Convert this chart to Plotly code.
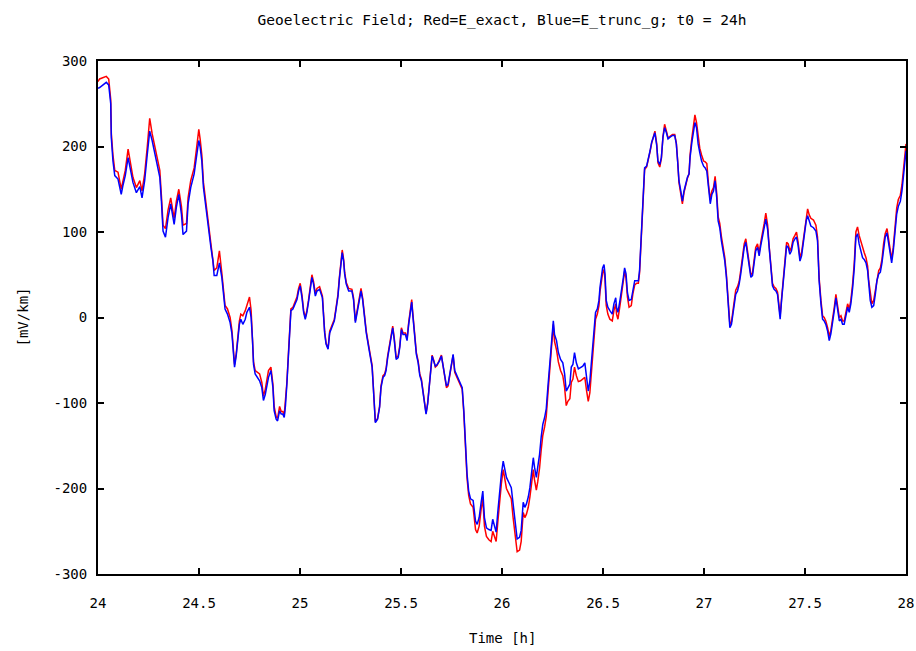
import plotly.graph_objects as go

# time in hours
TIME_H = [
    24.000, 24.008, 24.041, 24.053, 24.063, 24.066, 24.074, 24.083, 24.099, 24.115,
    24.124, 24.135, 24.149, 24.162, 24.173, 24.190, 24.207, 24.218, 24.231, 24.244,
    24.256, 24.268, 24.281, 24.294, 24.306, 24.314, 24.322, 24.334, 24.347, 24.360,
    24.377, 24.388, 24.400, 24.413, 24.421, 24.438, 24.446, 24.459, 24.476, 24.487,
    24.499, 24.506, 24.514, 24.522, 24.530, 24.539, 24.547, 24.559, 24.569, 24.575,
    24.588, 24.601, 24.613, 24.621, 24.629, 24.641, 24.654, 24.663, 24.671, 24.676,
    24.684, 24.690, 24.700, 24.707, 24.717, 24.729, 24.737, 24.750, 24.758, 24.765,
    24.770, 24.778, 24.790, 24.800, 24.811, 24.819, 24.828, 24.836, 24.844, 24.856,
    24.866, 24.872, 24.882, 24.889, 24.899, 24.907, 24.915, 24.922, 24.928, 24.935,
    24.942, 24.948, 24.955, 24.965, 24.976, 24.985, 24.993, 25.001, 25.010, 25.018,
    25.026, 25.034, 25.042, 25.051, 25.059, 25.067, 25.076, 25.084, 25.097, 25.111,
    25.116, 25.122, 25.129, 25.139, 25.147, 25.158, 25.170, 25.180, 25.188, 25.195,
    25.203, 25.209, 25.216, 25.221, 25.229, 25.241, 25.257, 25.265, 25.274, 25.282,
    25.294, 25.302, 25.310, 25.320, 25.328, 25.340, 25.348, 25.357, 25.362, 25.368,
    25.373, 25.384, 25.394, 25.401, 25.411, 25.419, 25.426, 25.434, 25.442, 25.451,
    25.459, 25.467, 25.476, 25.486, 25.494, 25.502, 25.510, 25.522, 25.530, 25.538,
    25.546, 25.553, 25.558, 25.568, 25.576, 25.585, 25.593, 25.601, 25.609, 25.617,
    25.624, 25.632, 25.641, 25.647, 25.654, 25.662, 25.670, 25.679, 25.690, 25.700,
    25.708, 25.716, 25.725, 25.733, 25.741, 25.750, 25.758, 25.766, 25.778, 25.791,
    25.803, 25.811, 25.819, 25.827, 25.835, 25.844, 25.857, 25.869, 25.877, 25.887,
    25.897, 25.905, 25.913, 25.923, 25.935, 25.946, 25.954, 25.963, 25.971, 25.979,
    25.989, 25.997, 26.006, 26.012, 26.022, 26.034, 26.046, 26.055, 26.067, 26.075,
    26.087, 26.095, 26.105, 26.113, 26.121, 26.130, 26.138, 26.146, 26.155, 26.161,
    26.170, 26.177, 26.186, 26.194, 26.202, 26.211, 26.219, 26.227, 26.234, 26.240,
    26.247, 26.254, 26.260, 26.270, 26.279, 26.290, 26.301, 26.310, 26.318, 26.326,
    26.336, 26.343, 26.351, 26.359, 26.368, 26.378, 26.389, 26.400, 26.410, 26.419,
    26.427, 26.435, 26.444, 26.452, 26.463, 26.472, 26.480, 26.485, 26.492, 26.498,
    26.505, 26.510, 26.516, 26.524, 26.534, 26.546, 26.554, 26.563, 26.567, 26.574,
    26.584, 26.592, 26.601, 26.607, 26.614, 26.621, 26.629, 26.640, 26.648, 26.657,
    26.667, 26.675, 26.681, 26.686, 26.693, 26.700, 26.706, 26.716, 26.725, 26.733,
    26.741, 26.749, 26.757, 26.766, 26.772, 26.781, 26.789, 26.797, 26.805, 26.814,
    26.822, 26.832, 26.844, 26.855, 26.863, 26.870, 26.876, 26.885, 26.893, 26.901,
    26.910, 26.918, 26.926, 26.931, 26.940, 26.948, 26.955, 26.963, 26.971, 26.979,
    26.988, 26.998, 27.006, 27.014, 27.023, 27.031, 27.039, 27.047, 27.055, 27.063,
    27.070, 27.078, 27.086, 27.094, 27.103, 27.111, 27.119, 27.128, 27.136, 27.149,
    27.157, 27.166, 27.174, 27.182, 27.191, 27.199, 27.207, 27.215, 27.223, 27.232,
    27.240, 27.248, 27.256, 27.265, 27.273, 27.281, 27.290, 27.298, 27.306, 27.315,
    27.323, 27.331, 27.339, 27.347, 27.356, 27.364, 27.372, 27.377, 27.384, 27.392,
    27.400, 27.409, 27.417, 27.425, 27.433, 27.441, 27.450, 27.458, 27.466, 27.475,
    27.483, 27.491, 27.499, 27.506, 27.513, 27.521, 27.529, 27.542, 27.554, 27.562,
    27.570, 27.579, 27.587, 27.595, 27.603, 27.612, 27.620, 27.628, 27.637, 27.645,
    27.653, 27.661, 27.670, 27.678, 27.686, 27.694, 27.703, 27.711, 27.719, 27.727,
    27.736, 27.744, 27.752, 27.760, 27.768, 27.777, 27.785, 27.793, 27.802, 27.810,
    27.815, 27.823, 27.831, 27.840, 27.848, 27.856, 27.865, 27.873, 27.881, 27.889,
    27.897, 27.906, 27.912, 27.921, 27.929, 27.937, 27.946, 27.954, 27.962, 27.972,
    27.980, 27.989, 27.994, 28.000,
]

# Blue: truncated field [mV/km]
E_TRUNC_G = [
    268, 269, 275, 272, 250, 210, 183, 166, 162, 144,
    155, 166, 187, 172, 158, 146, 153, 140, 160, 191,
    218, 207, 191, 179, 164, 136, 101, 94, 117, 133,
    109, 129, 144, 121, 97, 101, 133, 152, 168, 187,
    207, 199, 183, 152, 136, 121, 105, 82, 66, 49,
    49, 64, 47, 27, 10, 4, -6, -19, -43, -58,
    -45, -31, -8, -2, -8, -2, 6, 12, 0, -27,
    -55, -66, -70, -74, -82, -97, -90, -78, -70, -62,
    -82, -109, -119, -121, -109, -113, -113, -117, -103, -78,
    -47, -12, 8, 10, 16, 21, 31, 37, 23, 6,
    -2, 6, 18, 37, 47, 39, 25, 31, 33, 23,
    2, -18, -31, -37, -18, -10, -4, 12, 25, 45,
    64, 76, 66, 51, 39, 31, 31, 21, -6, 4,
    20, 31, 21, 0, -18, -35, -47, -58, -78, -109,
    -123, -119, -105, -82, -70, -68, -62, -47, -35, -23,
    -12, -27, -49, -47, -35, -14, -20, -20, -27, -8,
    6, 18, 4, -23, -43, -53, -68, -74, -86, -103,
    -113, -101, -78, -55, -45, -51, -57, -55, -51, -45,
    -55, -66, -80, -78, -68, -57, -43, -62, -68, -74,
    -82, -109, -152, -183, -203, -212, -214, -238, -242, -234,
    -216, -203, -234, -246, -248, -249, -236, -246, -251, -228,
    -197, -183, -168, -175, -187, -193, -199, -218, -246, -259,
    -257, -249, -216, -222, -218, -210, -199, -183, -164, -175,
    -187, -175, -160, -140, -125, -117, -107, -82, -62, -39,
    -18, -4, -20, -27, -41, -49, -53, -66, -86, -82,
    -78, -58, -55, -41, -53, -60, -58, -57, -53, -72,
    -86, -74, -47, -19, 6, 10, 20, 35, 49, 58,
    62, 51, 20, 12, 8, 4, 16, 23, 12, 6,
    20, 31, 47, 58, 51, 29, 20, 21, 33, 43,
    43, 43, 55, 82, 117, 152, 175, 177, 185, 195,
    205, 211, 216, 201, 183, 179, 187, 211, 222, 216,
    209, 211, 213, 213, 203, 181, 160, 148, 136, 148,
    158, 164, 168, 187, 205, 218, 228, 222, 203, 193,
    183, 177, 175, 171, 148, 133, 144, 148, 160, 140,
    113, 105, 90, 80, 66, 47, 12, -12, -8, 12,
    27, 31, 39, 51, 66, 82, 88, 74, 58, 47,
    49, 62, 78, 82, 72, 84, 94, 105, 115, 103,
    78, 55, 37, 33, 31, 27, 10, -2, 20, 43,
    66, 84, 82, 74, 78, 88, 92, 94, 84, 66,
    72, 86, 101, 113, 119, 113, 107, 105, 101, 90,
    43, 16, -2, -4, -8, -16, -27, -19, -6, 8,
    23, 12, -4, -2, -8, -8, 2, 12, 6, 16,
    35, 58, 94, 98, 86, 78, 70, 68, 64, 55,
    39, 20, 12, 14, 27, 43, 51, 53, 64, 82,
    94, 99, 90, 74, 64, 78, 98, 121, 130, 136,
    148, 172, 187, 195,
]

# Red: exact field [mV/km]
E_EXACT = [
    276, 279, 282, 279, 255, 215, 190, 172, 170, 150,
    160, 172, 197, 178, 164, 152, 160, 148, 168, 200,
    233, 215, 200, 188, 172, 142, 108, 104, 126, 140,
    116, 136, 150, 130, 108, 110, 140, 160, 175, 196,
    220, 208, 190, 158, 142, 126, 110, 88, 70, 55,
    58, 78, 52, 32, 14, 10, 0, -15, -40, -55,
    -43, -28, -4, 4, 2, 8, 14, 24, 8, -22,
    -52, -62, -64, -66, -76, -92, -84, -72, -62, -58,
    -78, -104, -116, -118, -104, -110, -110, -114, -100, -76,
    -45, -10, 10, 12, 18, 24, 34, 40, 26, 8,
    0, 8, 20, 40, 50, 42, 28, 34, 36, 25,
    4, -16, -30, -36, -16, -8, -2, 14, 27, 47,
    66, 79, 68, 53, 41, 34, 33, 23, -4, 6,
    22, 34, 23, 2, -16, -33, -45, -56, -76, -108,
    -122, -118, -104, -80, -68, -66, -60, -45, -33, -21,
    -10, -25, -47, -45, -33, -12, -18, -18, -25, -6,
    8, 21, 6, -21, -41, -51, -66, -72, -84, -101,
    -112, -100, -76, -53, -44, -50, -58, -56, -50, -44,
    -56, -68, -82, -80, -70, -58, -44, -64, -70, -76,
    -84, -112, -156, -188, -208, -218, -222, -248, -252, -244,
    -224, -212, -244, -256, -260, -262, -250, -258, -262, -240,
    -208, -194, -178, -188, -200, -206, -212, -234, -262, -274,
    -272, -262, -228, -234, -230, -222, -210, -196, -178, -190,
    -202, -192, -176, -155, -138, -128, -116, -90, -68, -44,
    -22, -8, -28, -38, -52, -62, -68, -82, -103, -98,
    -95, -76, -72, -58, -68, -75, -74, -72, -70, -86,
    -98, -88, -60, -30, -2, 4, 14, 30, 44, 52,
    56, 44, 14, 4, -2, -4, 8, 16, 4, -2,
    14, 26, 42, 54, 46, 24, 12, 14, 28, 38,
    40, 40, 52, 80, 115, 150, 173, 176, 184, 194,
    204, 210, 218, 203, 181, 176, 186, 212, 226, 218,
    210, 212, 214, 214, 204, 182, 158, 145, 133, 146,
    157, 163, 168, 190, 210, 224, 237, 228, 210, 198,
    190, 183, 182, 180, 154, 138, 148, 152, 165, 145,
    118, 110, 95, 84, 70, 50, 16, -8, -5, 16,
    32, 36, 42, 55, 70, 86, 92, 78, 62, 50,
    52, 66, 82, 86, 76, 88, 98, 110, 122, 108,
    82, 58, 40, 36, 34, 30, 14, 2, 22, 46,
    70, 88, 86, 78, 82, 92, 96, 100, 88, 70,
    76, 90, 106, 120, 127, 120, 116, 114, 108, 94,
    46, 20, 2, 0, -4, -12, -22, -15, -2, 12,
    27, 16, 0, 2, -4, -4, 6, 16, 10, 20,
    40, 64, 100, 106, 96, 88, 80, 76, 70, 60,
    44, 26, 16, 20, 32, 47, 55, 58, 68, 86,
    98, 104, 95, 78, 68, 82, 104, 128, 138, 143,
    155, 180, 195, 203,
]

X_TICKS = [24, 24.5, 25, 25.5, 26, 26.5, 27, 27.5, 28]
X_TICK_LABELS = ["24", "24.5", "25", "25.5", "26", "26.5", "27", "27.5", "28"]
Y_TICKS = [-300, -200, -100, 0, 100, 200, 300]
Y_TICK_LABELS = ["-300", "-200", "-100", "0", "100", "200", "300"]

TITLE = "Geoelectric Field; Red=E_exact, Blue=E_trunc_g; t0 = 24h"
FONT = "DejaVu Sans Mono"

fig = go.Figure()
fig.add_trace(go.Scatter(x=TIME_H, y=E_EXACT, mode="lines",
                         line=dict(color="#ff0000", width=1.5), name="E_exact"))
fig.add_trace(go.Scatter(x=TIME_H, y=E_TRUNC_G, mode="lines",
                         line=dict(color="#0000ff", width=1.5), name="E_trunc_g"))

axis_common = dict(
    showline=True, linecolor="black", linewidth=2, mirror="ticks",
    ticks="inside", ticklen=6, tickwidth=2, tickcolor="black",
    showgrid=False, zeroline=False, automargin=False,
    tickfont=dict(family=FONT, size=14, color="black"),
)

fig.update_layout(
    width=916, height=651,
    margin=dict(l=98, r=10, t=61, b=77, autoexpand=False),
    paper_bgcolor="white", plot_bgcolor="white",
    showlegend=False,
    title=dict(text=TITLE, x=0.5, xref="paper", xanchor="center",
               y=1 - 20 / 651, yanchor="middle",
               font=dict(family=FONT, size=14.5, color="black")),
    xaxis=dict(range=[24, 28], tickvals=X_TICKS, ticktext=X_TICK_LABELS,
               ticklabelstandoff=15, **axis_common),
    yaxis=dict(range=[-300, 300], tickvals=Y_TICKS, ticktext=Y_TICK_LABELS,
               ticklabelstandoff=6, **axis_common),
    annotations=[
        dict(text="Time [h]", xref="paper", yref="paper", x=0.5, y=0,
             yshift=-64, xanchor="center", yanchor="middle", showarrow=False,
             font=dict(family=FONT, size=14, color="black")),
        dict(text="[mV/km]", xref="paper", yref="paper", x=0, y=0.5,
             xshift=-76, xanchor="center", yanchor="middle", showarrow=False,
             textangle=-90, font=dict(family=FONT, size=14, color="black")),
    ],
)

fig.write_html(
    "out.html",
    config={"displayModeBar": False},
    post_script="document.body.style.margin='0';document.body.style.padding='0';",
)
